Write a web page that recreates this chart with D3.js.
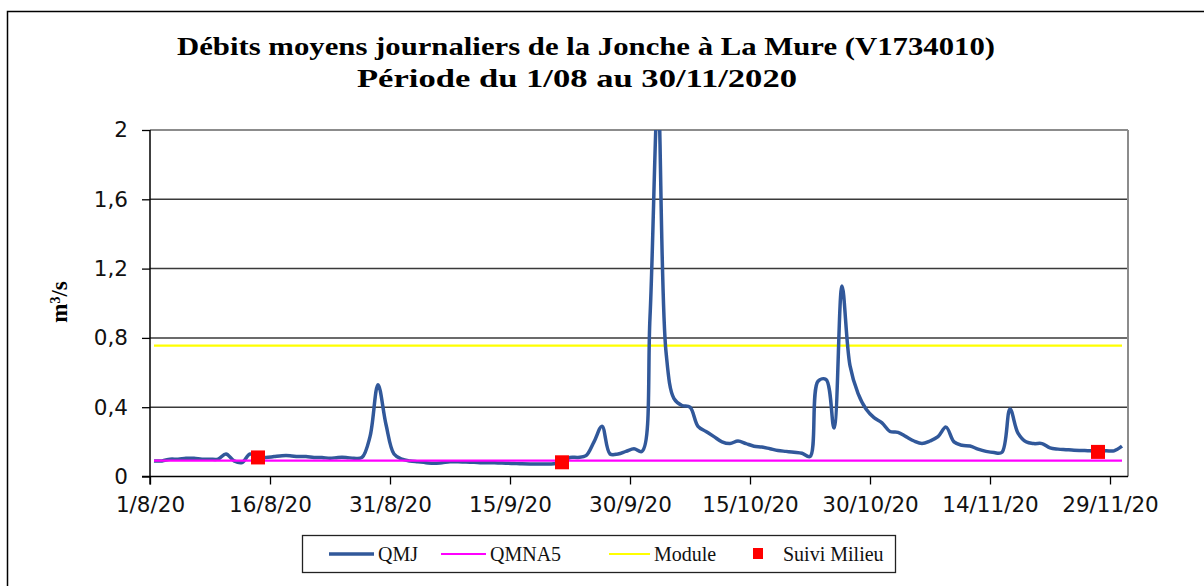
<!DOCTYPE html>
<html><head><meta charset="utf-8">
<script src="https://cdn.jsdelivr.net/npm/d3@7"></script>
<style>
html,body{margin:0;padding:0;background:#fff;}
svg{display:block;}
</style></head>
<body>
<svg id="chart" width="1204" height="586"></svg>
<script>
// ---- data ----
const titleLines = ["Débits moyens journaliers de la Jonche à La Mure (V1734010)", "Période du 1/08 au 30/11/2020"];
const yLabel = "m³/s";
const startDay = "2020-08-01";
const endDay = "2020-12-01";
// QMJ daily values from 1/8/2020 to 30/11/2020 (m3/s)
const qmj = [
 0.09,0.09,0.10,0.10,0.105,0.105,0.10,0.10,0.10,0.13,
 0.09,0.08,0.13,0.11,0.11,0.115,0.12,0.12,0.115,0.115,
 0.11,0.11,0.105,0.11,0.11,0.105,0.11,0.23,0.53,0.30,
 0.13,0.10,0.09,0.085,0.08,0.076,0.08,0.085,0.085,0.083,
 0.082,0.08,0.08,0.078,0.077,0.075,0.073,0.072,0.072,0.072,
 0.074,0.082,0.11,0.11,0.12,0.20,0.29,0.13,0.13,0.145,
 0.16,0.145,0.92,2.2,0.72,0.45,0.41,0.40,0.29,0.26,
 0.23,0.20,0.19,0.205,0.19,0.175,0.17,0.16,0.15,0.145,
 0.14,0.134,0.115,0.55,0.56,0.28,1.10,0.64,0.48,0.39,
 0.34,0.31,0.26,0.255,0.23,0.205,0.19,0.205,0.23,0.285,
 0.20,0.18,0.176,0.158,0.145,0.138,0.14,0.39,0.25,0.20,
 0.19,0.19,0.165,0.158,0.155,0.152,0.15,0.148,0.145,0.148,
 0.148,0.175
];
const qmna5 = 0.092;
const moduleVal = 0.755;
const suiviDates = ["2020-08-14", "2020-09-21", "2020-11-27"];
const suiviValues = [0.11, 0.082, 0.142];
const xTickDates = ["2020-08-01","2020-08-16","2020-08-31","2020-09-15","2020-09-30","2020-10-15","2020-10-30","2020-11-14","2020-11-29"];
const xTickLabels = ["1/8/20","16/8/20","31/8/20","15/9/20","30/9/20","15/10/20","30/10/20","14/11/20","29/11/20"];
const yTickValues = [0, 0.4, 0.8, 1.2, 1.6, 2];
const yTickLabels = ["0", "0,4", "0,8", "1,2", "1,6", "2"];
const legendNames = ["QMJ", "QMNA5", "Module", "Suivi Milieu"];

// ---- setup ----
const parse = d3.utcParse("%Y-%m-%d");
const svg = d3.select("#chart");
const L = 150, R = 1128, T = 130, B = 476.5;
const x = d3.scaleUtc().domain([parse(startDay), parse(endDay)]).range([L, 1126]);
const y = d3.scaleLinear().domain([0, 2]).range([B, T]);
const mid = d => x(d3.utcHour.offset(d, 12));
const days = qmj.map((v, i) => d3.utcDay.offset(parse(startDay), i));

const C_QMJ = "#31589a", C_QMNA = "#ff00ff", C_MOD = "#ffff00", C_SUIVI = "#ff0000";

// outer frame
svg.append("rect").attr("x", 7.5).attr("y", 11.5).attr("width", 1220).attr("height", 620)
  .attr("fill", "none").attr("stroke", "#000").attr("stroke-width", 1.5);

// title
const serif = "'Liberation Serif', 'DejaVu Serif', serif";
const tw = [818, 440];
const ty = [55, 87];
const tcx = [586, 577];
titleLines.forEach((t, i) => {
  svg.append("text").attr("x", tcx[i]).attr("y", ty[i]).attr("text-anchor", "middle")
    .attr("font-family", serif).attr("font-weight", "bold").attr("font-size", 26)
    .attr("textLength", tw[i]).attr("lengthAdjust", "spacingAndGlyphs")
    .text(t);
});

// gridlines
const gridVals = yTickValues.filter(v => v > 0 && v < 2);
svg.append("g").selectAll("line").data(gridVals).join("line")
  .attr("x1", L).attr("x2", R).attr("y1", d => y(d)).attr("y2", d => y(d))
  .attr("stroke", "#3a3a3a").attr("stroke-width", 1.5);
// top and right border (gray)
svg.append("line").attr("x1", L).attr("x2", R).attr("y1", y(2)).attr("y2", y(2))
  .attr("stroke", "#8c8c8c").attr("stroke-width", 2);
svg.append("line").attr("x1", R).attr("x2", R).attr("y1", T).attr("y2", B)
  .attr("stroke", "#8c8c8c").attr("stroke-width", 2);

// axes
const sans = "'DejaVu Sans', Verdana, sans-serif";
const xAxis = d3.axisBottom(x).tickValues(xTickDates.map(parse))
  .tickFormat((d, i) => xTickLabels[i]).tickSizeInner(8).tickSizeOuter(0).tickPadding(12);
const gx = svg.append("g").attr("transform", `translate(0,${B})`).call(xAxis);
gx.select(".domain").attr("stroke", "#000").attr("stroke-width", 1.5).attr("d", `M${L - 8},0H${R}`);
gx.selectAll(".tick line").attr("stroke", "#000").attr("stroke-width", 1.3);
gx.selectAll("text").attr("font-family", sans).attr("font-size", 21.5).attr("fill", "#111");

const yAxis = d3.axisLeft(y).tickValues(yTickValues)
  .tickFormat((d, i) => yTickLabels[i]).tickSizeInner(8).tickSizeOuter(0).tickPadding(14);
const gy = svg.append("g").attr("transform", `translate(${L},0)`).call(yAxis);
gy.select(".domain").attr("stroke", "#000").attr("stroke-width", 1.5).attr("d", `M0,${T}V${B + 8}`);
gy.selectAll(".tick line").attr("stroke", "#000").attr("stroke-width", 1.3);
gy.selectAll("text").attr("font-family", sans).attr("font-size", 21.5).attr("fill", "#111");

// y label
svg.append("text").attr("transform", "translate(67,302) rotate(-90)").attr("text-anchor", "middle")
  .attr("font-family", serif).attr("font-weight", "bold").attr("font-size", 23)
  .html("m<tspan baseline-shift='super' font-size='14'>3</tspan>/s");

// clip
svg.append("clipPath").attr("id", "plotclip").append("rect")
  .attr("x", L).attr("y", T).attr("width", R - L).attr("height", B - T);
const plot = svg.append("g").attr("clip-path", "url(#plotclip)");

// reference lines
const firstX = mid(days[0]), lastX = mid(days[days.length - 1]);
plot.append("line").attr("x1", firstX).attr("x2", lastX).attr("y1", y(moduleVal)).attr("y2", y(moduleVal))
  .attr("stroke", C_MOD).attr("stroke-width", 2.2);

// QMJ line
const line = d3.line().x((d, i) => mid(days[i])).y(d => y(d)).curve(d3.curveCatmullRom.alpha(0.5));
plot.append("path").datum(qmj).attr("d", line).attr("fill", "none")
  .attr("stroke", C_QMJ).attr("stroke-width", 3.5).attr("stroke-linejoin", "round");

plot.append("line").attr("x1", firstX).attr("x2", lastX).attr("y1", y(qmna5)).attr("y2", y(qmna5))
  .attr("stroke", C_QMNA).attr("stroke-width", 2.2);

// Suivi markers
const ms = 14;
svg.append("g").selectAll("rect").data(suiviDates).join("rect")
  .attr("x", (d) => mid(parse(d)) - ms / 2)
  .attr("y", (d, i) => y(suiviValues[i]) - ms / 2)
  .attr("width", ms).attr("height", ms).attr("fill", C_SUIVI);

// legend
const lg = svg.append("g");
lg.append("rect").attr("x", 302.5).attr("y", 535.5).attr("width", 593).attr("height", 37)
  .attr("fill", "#fff").attr("stroke", "#222").attr("stroke-width", 1.3);
const ly = 554;
const legItems = [
  {name: legendNames[0], type: "line", color: C_QMJ, w: 3.5, x1: 329, x2: 374, tx: 378},
  {name: legendNames[1], type: "line", color: C_QMNA, w: 2.2, x1: 441, x2: 486, tx: 490},
  {name: legendNames[2], type: "line", color: C_MOD, w: 2.2, x1: 609, x2: 650, tx: 654},
  {name: legendNames[3], type: "mark", color: C_SUIVI, cx: 758, tx: 783}
];
legItems.forEach(it => {
  if (it.type === "line") {
    lg.append("line").attr("x1", it.x1).attr("x2", it.x2).attr("y1", ly).attr("y2", ly)
      .attr("stroke", it.color).attr("stroke-width", it.w);
  } else {
    lg.append("rect").attr("x", it.cx - 5).attr("y", ly - 6).attr("width", 10).attr("height", 11).attr("fill", it.color);
  }
  lg.append("text").attr("x", it.tx).attr("y", ly + 7).attr("font-family", serif)
    .attr("font-size", 20).attr("fill", "#111").text(it.name);
});
</script>
</body></html>
